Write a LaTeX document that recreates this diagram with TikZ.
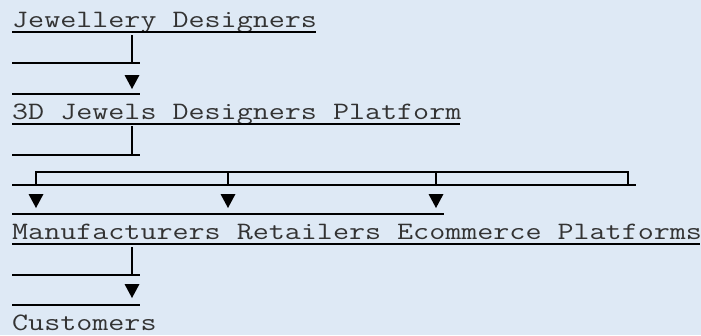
\documentclass[tikz,border=0pt]{standalone}
\usepackage{fontspec}
\setmonofont[FakeStretch=1.246]{Latin Modern Mono}
\usetikzlibrary{positioning, arrows.meta}

\definecolor{bgblue}{HTML}{DEE9F5}
\definecolor{txtgray}{HTML}{333333}

\tikzset{
  lbl/.style={anchor=base west, inner sep=0pt, text=txtgray,
    font=\ttfamily\fontsize{25}{30}\selectfont},
  uline/.style={line width=1.8pt, black},
  stem/.style={line width=1.8pt, black},
  tip/.pic={\fill[black] (-7.5,0) -- (7.5,0) -- (0,-14) -- cycle;}
}

\begin{document}
\begin{tikzpicture}[x=1pt, y=1pt]
\fill[bgblue] (0,0) rectangle (701,-335);
\useasboundingbox (0,0) rectangle (701,-335);

% labels
\node[lbl] (jd) at (12,-27) {Jewellery Designers};
\node[lbl] (pf) at (12,-119) {3D Jewels Designers Platform};
\node[lbl] (mr) at (12,-239) {Manufacturers Retailers Ecommerce Platforms};
\node[lbl] (cu) at (12,-330) {Customers};

% underlines, one per text row
\foreach \y/\n in {32/19, 63/8, 94/8, 124/28, 155/8, 185/39,
                   214/27, 244/43, 275/8, 305/8}
  \draw[uline] (12,-\y) -- ++(\n*16,0);

% stems
\coordinate (s1) at (132,-35);  \coordinate (e1) at (132,-64);
\coordinate (s2) at (132,-126); \coordinate (e2) at (132,-156);
\coordinate (s3) at (132,-247); \coordinate (e3) at (132,-276);
\draw[stem] (s1) -- (e1);
\draw[stem] (s2) -- (e2);
\draw[stem] (s3) -- (e3);

% bracket to the three targets
\coordinate (b1) at (36,-172);
\coordinate (b2) at (228,-172);
\coordinate (b3) at (436,-172);
\coordinate (b4) at (628,-172);
\draw[stem] (b1) -- (b4);
\foreach \b in {b1,b2,b3,b4}
  \draw[stem] ([yshift=0.9pt]\b) -- ++(0,-14);

% arrow heads
\pic at (132,-75) {tip};
\pic at (36,-194) {tip};
\pic at (228,-194) {tip};
\pic at (436,-194) {tip};
\pic at (132,-284) {tip};
\end{tikzpicture}
\end{document}
